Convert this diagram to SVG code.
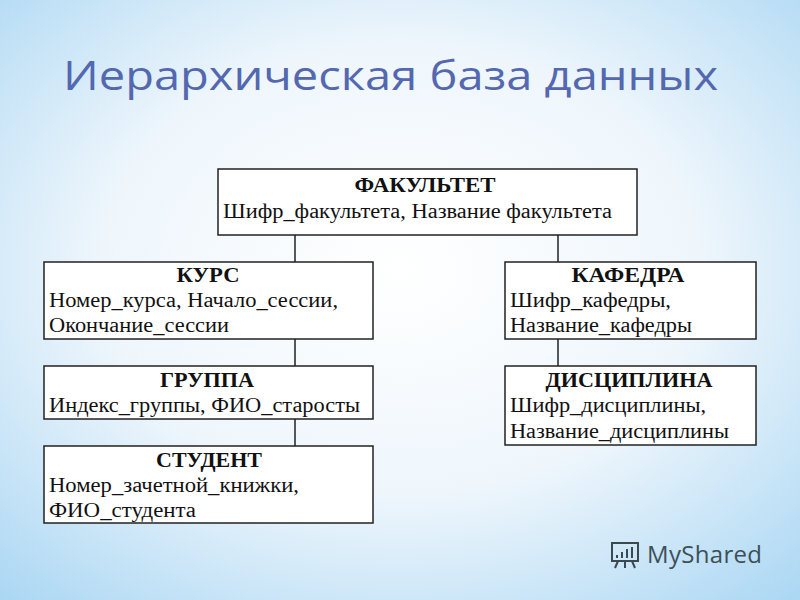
<svg xmlns="http://www.w3.org/2000/svg" width="800" height="600" viewBox="0 0 800 600">
<defs>
<radialGradient id="bg" cx="0.5" cy="0.45" r="0.75">
<stop offset="0" stop-color="#ffffff"/><stop offset="0.5" stop-color="#eef6fc"/><stop offset="1" stop-color="#a9d6f3"/>
</radialGradient>
<style>
.box{fill:#fff;stroke:#222;stroke-width:1.5}
.t{font-family:"Liberation Serif",serif;font-size:20px;fill:#111}
.h{font-weight:bold;text-anchor:middle}
.c{stroke:#222;stroke-width:1.5;fill:none}
</style>
</defs>
<rect width="800" height="600" fill="url(#bg)"/>
<text x="63" y="90" font-family="Open Sans, sans-serif" font-size="40" fill="#5468b0" textLength="655" lengthAdjust="spacingAndGlyphs">Иерархическая база данных</text>
<g id="connectors">
<path class="c" d="M295 235V262M558 235V262M295 339V366M295 419V446M558 339V366"/>
</g>
<g id="fakultet"><rect class="box" x="218" y="169" width="419" height="66"/>
<text class="t h" x="425" y="192" textLength="141" lengthAdjust="spacingAndGlyphs">ФАКУЛЬТЕТ</text><text class="t" x="223" y="218" textLength="389" lengthAdjust="spacingAndGlyphs">Шифр_факультета, Название факультета</text></g>
<g id="kurs"><rect class="box" x="44" y="262" width="329" height="77"/>
<text class="t h" x="208" y="282" textLength="63" lengthAdjust="spacingAndGlyphs">КУРС</text><text class="t" x="49" y="307" textLength="289" lengthAdjust="spacingAndGlyphs">Номер_курса, Начало_сессии,</text><text class="t" x="49" y="332" textLength="180" lengthAdjust="spacingAndGlyphs">Окончание_сессии</text></g>
<g id="kafedra"><rect class="box" x="505" y="262" width="251" height="77"/>
<text class="t h" x="628" y="282" textLength="113" lengthAdjust="spacingAndGlyphs">КАФЕДРА</text><text class="t" x="510" y="307" textLength="161" lengthAdjust="spacingAndGlyphs">Шифр_кафедры,</text><text class="t" x="510" y="332" textLength="182" lengthAdjust="spacingAndGlyphs">Название_кафедры</text></g>
<g id="gruppa"><rect class="box" x="44" y="366" width="329" height="53"/>
<text class="t h" x="207" y="387" textLength="94" lengthAdjust="spacingAndGlyphs">ГРУППА</text><text class="t" x="49" y="412" textLength="311" lengthAdjust="spacingAndGlyphs">Индекс_группы, ФИО_старосты</text></g>
<g id="disciplina"><rect class="box" x="505" y="366" width="251" height="79"/>
<text class="t h" x="629" y="387" textLength="167" lengthAdjust="spacingAndGlyphs">ДИСЦИПЛИНА</text><text class="t" x="510" y="412" textLength="196" lengthAdjust="spacingAndGlyphs">Шифр_дисциплины,</text><text class="t" x="510" y="438" textLength="219" lengthAdjust="spacingAndGlyphs">Название_дисциплины</text></g>
<g id="student"><rect class="box" x="44" y="446" width="329" height="77"/>
<text class="t h" x="209" y="467" textLength="106" lengthAdjust="spacingAndGlyphs">СТУДЕНТ</text><text class="t" x="49" y="492" textLength="250" lengthAdjust="spacingAndGlyphs">Номер_зачетной_книжки,</text><text class="t" x="49" y="517" textLength="147" lengthAdjust="spacingAndGlyphs">ФИО_студента</text></g>
<g id="logo">
<rect x="612" y="543" width="26" height="18" fill="none" stroke="#3a4a50" stroke-width="2"/>
<path d="M617 558v-3M622 558v-6M627 558v-9M632 558v-11M618 561l-3 7M625 561v7M632 561l3 7" stroke="#3a4a50" stroke-width="2"/>
<text x="647" y="563" font-family="Open Sans, sans-serif" font-size="24" fill="#3d4f57" textLength="115">MyShared</text>
</g>
</svg>
